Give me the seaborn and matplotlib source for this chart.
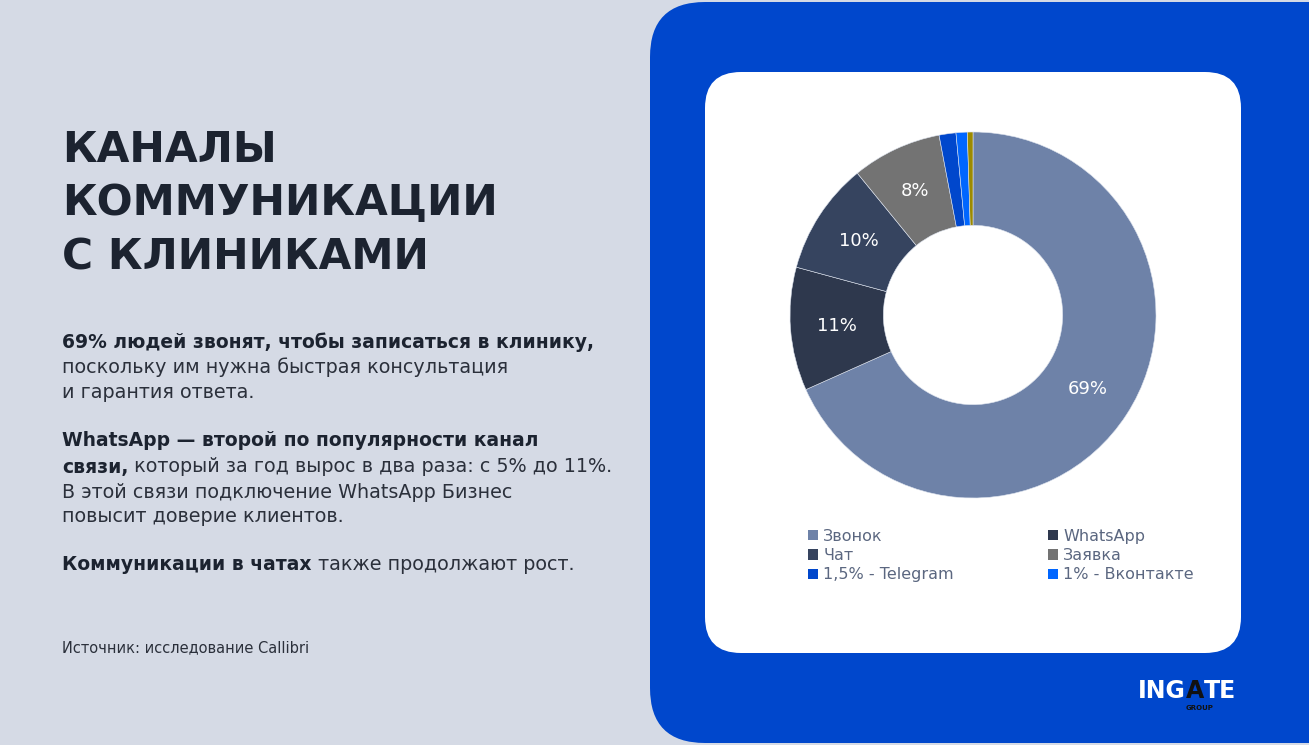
import matplotlib.pyplot as plt
import seaborn as sns
from matplotlib.patches import FancyBboxPatch, Patch

# Channel shares (the last small slice has no legend entry)
channels = ["Звонок", "WhatsApp", "Чат", "Заявка", "1,5% - Telegram", "1% - Вконтакте", ""]
shares = [69, 11, 10, 8, 1.5, 1, 0.5]
pct_labels = ["69%", "11%", "10%", "8%", "", "", ""]
slice_colors = ["#6E82A8", "#2E384D", "#36445F", "#737373", "#0047CC", "#0066FF", "#9C8A00"]

title_lines = ["КАНАЛЫ", "КОММУНИКАЦИИ", "С КЛИНИКАМИ"]
# each line: list of (text, bold)
body_lines = [
    [("69% людей звонят, чтобы записаться в клинику,", True)],
    [("поскольку им нужна быстрая консультация", False)],
    [("и гарантия ответа.", False)],
    [("WhatsApp — второй по популярности канал", True)],
    [("связи,", True), (" который за год вырос в два раза: с 5% до 11%.", False)],
    [("В этой связи подключение WhatsApp Бизнес", False)],
    [("повысит доверие клиентов.", False)],
    [("Коммуникации в чатах", True), (" также продолжают рост.", False)],
]
body_y = [342, 367, 392, 441, 467, 492, 516, 565]
source = "Источник: исследование Callibri"

sns.set_theme(style="white")
plt.rcParams['font.family'] = ['DejaVu Sans']
palette = sns.color_palette(slice_colors)

W, H = 1309, 745
fig = plt.figure(figsize=(W / 100, H / 100), dpi=100)
fig.patch.set_facecolor("#D5DAE5")

# background axes in pixel units
bg = fig.add_axes([0, 0, 1, 1])
bg.set_xlim(0, W)
bg.set_ylim(H, 0)
bg.axis("off")

bg.add_patch(FancyBboxPatch((650, 2), 800, 741, boxstyle="round,pad=0,rounding_size=55",
                            fc="#0047CC", ec="none"))
bg.add_patch(FancyBboxPatch((705, 72), 536, 581, boxstyle="round,pad=0,rounding_size=36",
                            fc="white", ec="none"))

dark = "#1C2330"
for txt, y in zip(title_lines, [150, 203, 257]):
    bg.text(62, y, txt, fontsize=30.5, fontweight="bold", color=dark, va="center", ha="left")

fig.canvas.draw()
renderer = fig.canvas.get_renderer()
for parts, y in zip(body_lines, body_y):
    x = 62
    for txt, bold in parts:
        t = bg.text(x, y, txt, fontsize=13.5 if bold else 13.8,
                    fontweight="bold" if bold else "normal",
                    color=dark if bold else "#2B303B", va="center", ha="left")
        x += t.get_window_extent(renderer=renderer).width
bg.text(62, 648, source, fontsize=10.5, color="#2B303B", va="center", ha="left")

# logo
x = 1138
for txt, col in [("ING", "white"), ("A", "#111111"), ("TE", "white")]:
    t = bg.text(x, 691, txt, fontsize=17, fontweight="bold", color=col, va="center", ha="left")
    x += t.get_window_extent(renderer=renderer).width
bg.text(1200, 708, "GROUP", fontsize=5, fontweight="bold", color="#111111", va="center", ha="center")

# donut
cx, cy, r = 973, 315, 183
ax = fig.add_axes([(cx - r) / W, (H - cy - r) / H, 2 * r / W, 2 * r / H])
wedges, texts, autotexts = ax.pie(
    shares, colors=palette, startangle=90, counterclock=False,
    labels=None, autopct=lambda p: "", pctdistance=0.745,
    wedgeprops=dict(width=0.51, linewidth=0.4, edgecolor="#DDE3EE"))
for at, lab in zip(autotexts, pct_labels):
    at.set_text(lab)
    at.set_color("white")
    at.set_fontsize(13)
ax.set_xlim(-1, 1)
ax.set_ylim(-1, 1)
ax.axis("off")

# legend, row-wise order
order = [0, 2, 4, 1, 3, 5]
handles = [Patch(facecolor=slice_colors[i], edgecolor="none") for i in order]
labels = [channels[i] for i in order]
bg.legend(handles, labels, ncol=2, loc="upper left", bbox_to_anchor=(808 / W, 1 - 529 / H),
          bbox_transform=fig.transFigure, frameon=False, fontsize=11.5,
          handlelength=0.6, handleheight=0.6, handletextpad=0.35, labelspacing=0.26,
          columnspacing=5.9, labelcolor="#5B6780", borderpad=0, borderaxespad=0)

fig.savefig("out.png", dpi=100, facecolor=fig.get_facecolor())
